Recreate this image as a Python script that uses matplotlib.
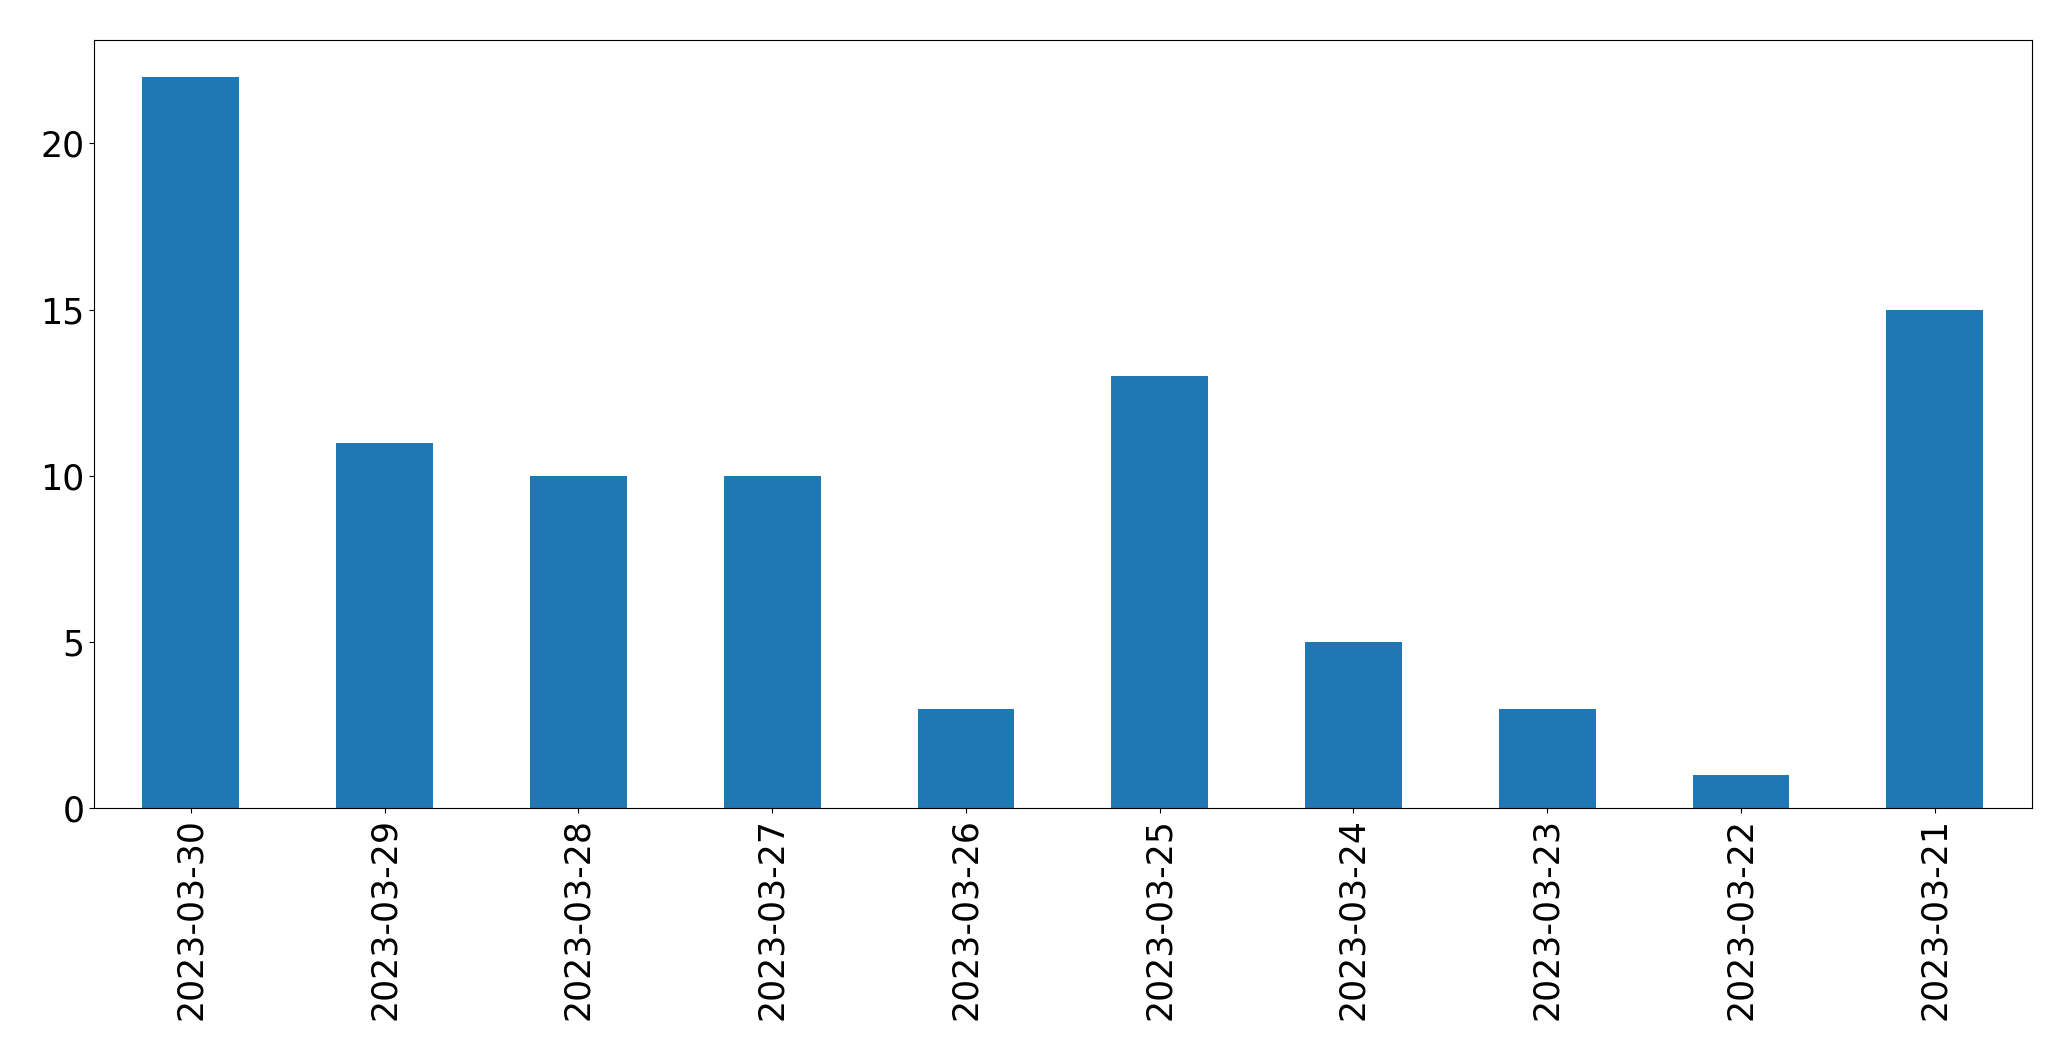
import matplotlib
matplotlib.use("Agg")
import matplotlib.pyplot as plt

dates = ["2023-03-30", "2023-03-29", "2023-03-28", "2023-03-27", "2023-03-26",
         "2023-03-25", "2023-03-24", "2023-03-23", "2023-03-22", "2023-03-21"]
counts = [22, 11, 10, 10, 3, 13, 5, 3, 1, 15]

fig = plt.figure(figsize=(20.71, 10.61), dpi=100)
ax = fig.add_axes([0.0454, 0.238, 0.9356, 0.724])

x = range(len(dates))
ax.bar(x, counts, width=0.5, color="#1f77b4")
ax.set_xlim(-0.5, len(dates) - 0.5)
ax.set_xticks(list(x))
ax.set_xticklabels(dates, rotation=90)
ax.tick_params(labelsize=25)

fig.savefig("out.png", dpi=100)
